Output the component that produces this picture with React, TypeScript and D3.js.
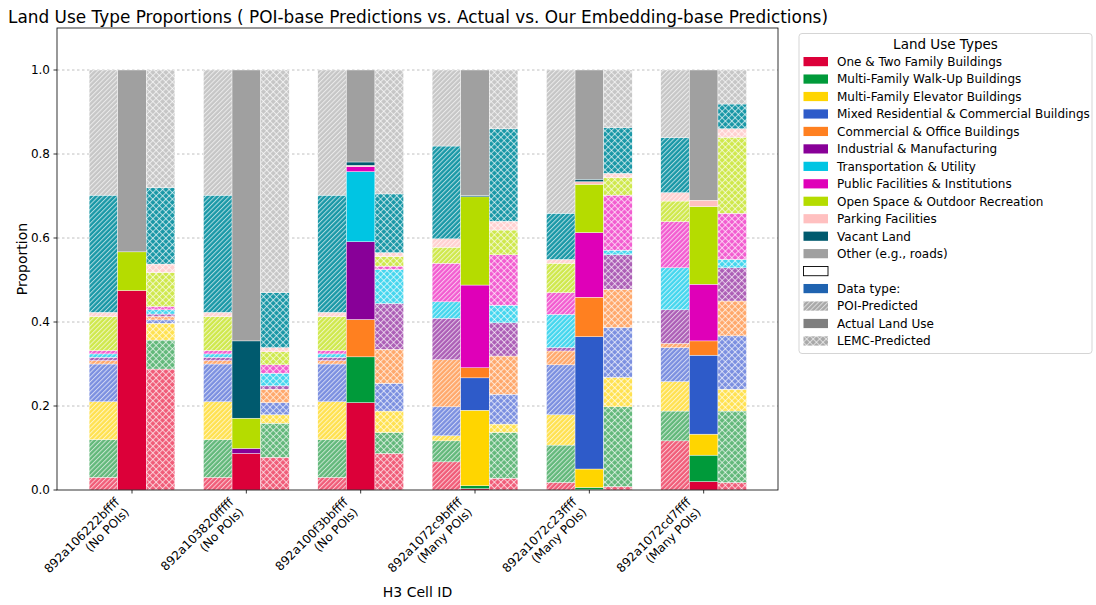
import React from "react";
import * as d3 from "d3";

const cellIds = ["892a106222bffff", "892a103820fffff", "892a100f3bbffff", "892a1072c9bffff", "892a1072c23ffff", "892a1072cd7ffff"];
const cellNotes = ["(No POIs)", "(No POIs)", "(No POIs)", "(Many POIs)", "(Many POIs)", "(Many POIs)"];
const landUseTypes = [
  "One & Two Family Buildings",
  "Multi-Family Walk-Up Buildings",
  "Multi-Family Elevator Buildings",
  "Mixed Residential & Commercial Buildings",
  "Commercial & Office Buildings",
  "Industrial & Manufacturing",
  "Transportation & Utility",
  "Public Facilities & Institutions",
  "Open Space & Outdoor Recreation",
  "Parking Facilities",
  "Vacant Land",
  "Other (e.g., roads)",
];
// values per cell, in landUseTypes order
const poiPredicted = [
  [0.03, 0.09, 0.09, 0.09, 0.008, 0.008, 0.008, 0.008, 0.081, 0.01, 0.279, 0.298],
  [0.03, 0.09, 0.09, 0.09, 0.008, 0.008, 0.008, 0.008, 0.081, 0.01, 0.279, 0.298],
  [0.03, 0.09, 0.09, 0.09, 0.008, 0.008, 0.008, 0.008, 0.081, 0.01, 0.279, 0.298],
  [0.067, 0.05, 0.012, 0.069, 0.112, 0.099, 0.039, 0.092, 0.038, 0.02, 0.221, 0.181],
  [0.018, 0.089, 0.072, 0.119, 0.033, 0.008, 0.079, 0.052, 0.07, 0.009, 0.11, 0.341],
  [0.117, 0.071, 0.07, 0.081, 0.01, 0.08, 0.1, 0.11, 0.049, 0.02, 0.131, 0.161],
];
const actualLandUse = [
  [0.475, 0, 0, 0, 0, 0, 0, 0, 0.092, 0, 0, 0.433],
  [0.087, 0, 0, 0, 0, 0.012, 0, 0, 0.072, 0, 0.184, 0.645],
  [0.208, 0.109, 0, 0, 0.089, 0.185, 0.167, 0.012, 0, 0.003, 0.008, 0.219],
  [0.003, 0.007, 0.18, 0.077, 0.024, 0, 0, 0.197, 0.21, 0, 0.003, 0.299],
  [0.001, 0.005, 0.044, 0.315, 0.094, 0, 0, 0.154, 0.115, 0.006, 0.006, 0.26],
  [0.02, 0.063, 0.05, 0.188, 0.034, 0, 0, 0.135, 0.185, 0.015, 0, 0.31],
];
const lemcPredicted = [
  [0.288, 0.069, 0.04, 0.008, 0.008, 0.006, 0.01, 0.008, 0.081, 0.02, 0.182, 0.28],
  [0.078, 0.081, 0.02, 0.029, 0.032, 0.008, 0.03, 0.02, 0.031, 0.01, 0.131, 0.53],
  [0.087, 0.05, 0.051, 0.066, 0.081, 0.109, 0.081, 0.008, 0.023, 0.009, 0.14, 0.295],
  [0.028, 0.109, 0.02, 0.071, 0.091, 0.079, 0.042, 0.12, 0.059, 0.021, 0.22, 0.14],
  [0.008, 0.19, 0.07, 0.119, 0.091, 0.082, 0.011, 0.131, 0.042, 0.01, 0.109, 0.137],
  [0.018, 0.17, 0.052, 0.127, 0.083, 0.079, 0.02, 0.11, 0.181, 0.02, 0.059, 0.081],
];
const yTicks = [0, 0.2, 0.4, 0.6, 0.8, 1.0];
const dataTypeLabels = ["POI-Predicted", "Actual Land Use", "LEMC-Predicted"];

const solidColors = ["#DC0039", "#009A3A", "#FFD500", "#2E5BC9", "#FF8020", "#880098", "#00C5E3", "#DF00B8", "#B5DC00", "#FFC0C0", "#005A6E", "#A0A0A0"];
const lightColors = ["#F05C78", "#62B87A", "#FFE150", "#7B8FE0", "#FFA86B", "#AC5EB6", "#44D6EE", "#F25CD0", "#CFE84C", "#FFD0D0", "#1897A6", "#C6C6C6"];

const W = 1096, H = 605;
const L = 57, R = 778, T = 28, B = 490;
const FONT = "DejaVu Sans, sans-serif";

export default function App() {
  const x = d3.scaleLinear().domain([-0.656, 5.65]).range([L, R]);
  const y = d3.scaleLinear().domain([0, 1.1]).range([B, T]);
  const bw = 0.25;
  const datasets = [poiPredicted, actualLandUse, lemcPredicted];
  const stacks = datasets.map((ds) => {
    const rows = ds.map((vals) => {
      const o: any = {};
      landUseTypes.forEach((k, i) => (o[k] = vals[i]));
      return o;
    });
    return d3.stack().keys(landUseTypes)(rows);
  });
  const fillFor = (t: number, i: number) =>
    t === 1 ? solidColors[i] : `url(#${t === 0 ? "poi" : "lemc"}-${i})`;

  const legendRows: { label: string; kind: string; color?: string }[] = [
    ...landUseTypes.map((l, i) => ({ label: l, kind: "solid", color: solidColors[i] })),
    { label: "", kind: "empty" },
    { label: "Data type:", kind: "solid", color: "#1F63B0" },
    { label: dataTypeLabels[0], kind: "poiLeg" },
    { label: dataTypeLabels[1], kind: "solid", color: "#7F7F7F" },
    { label: dataTypeLabels[2], kind: "lemcLeg" },
  ];

  return (
    <svg width={W} height={H} style={{ position: "absolute", left: 0, top: 0, background: "#fff" }} fontFamily={FONT}>
      <defs>
        {lightColors.map((c, i) => (
          <pattern key={"p" + i} id={`poi-${i}`} patternUnits="userSpaceOnUse" width={3.3} height={3.3} patternTransform="rotate(45)">
            <rect width={3.3} height={3.3} fill={c} />
            <line x1={0.5} y1={0} x2={0.5} y2={3.3} stroke="#fff" strokeOpacity={0.65} strokeWidth={1} />
          </pattern>
        ))}
        {lightColors.map((c, i) => (
          <pattern key={"l" + i} id={`lemc-${i}`} patternUnits="userSpaceOnUse" width={4.6} height={4.6} patternTransform="rotate(45)">
            <rect width={4.6} height={4.6} fill={c} />
            <line x1={0.5} y1={0} x2={0.5} y2={4.6} stroke="#fff" strokeOpacity={0.65} strokeWidth={1} />
            <line x1={0} y1={0.5} x2={4.6} y2={0.5} stroke="#fff" strokeOpacity={0.65} strokeWidth={1} />
          </pattern>
        ))}
        <pattern id="poi-leg" patternUnits="userSpaceOnUse" width={3.3} height={3.3} patternTransform="rotate(45)">
          <rect width={3.3} height={3.3} fill="#A8A8A8" />
          <line x1={0.5} y1={0} x2={0.5} y2={3.3} stroke="#fff" strokeOpacity={0.6} strokeWidth={1} />
        </pattern>
        <pattern id="lemc-leg" patternUnits="userSpaceOnUse" width={4.6} height={4.6} patternTransform="rotate(45)">
          <rect width={4.6} height={4.6} fill="#A8A8A8" />
          <line x1={0.5} y1={0} x2={0.5} y2={4.6} stroke="#fff" strokeOpacity={0.6} strokeWidth={1} />
          <line x1={0} y1={0.5} x2={4.6} y2={0.5} stroke="#fff" strokeOpacity={0.6} strokeWidth={1} />
        </pattern>
      </defs>

      {/* title */}
      <text x={8} y={23} fontSize={17} textLength={820} lengthAdjust="spacingAndGlyphs" fill="#000">
        Land Use Type Proportions ( POI-base Predictions vs. Actual vs. Our Embedding-base Predictions)
      </text>

      {/* grid */}
      {yTicks.slice(1).map((t) => (
        <line key={"g" + t} x1={L} x2={R} y1={y(t)} y2={y(t)} stroke="#b0b0b0" strokeWidth={0.8} strokeDasharray="2.5,2.5" />
      ))}

      {/* bars */}
      {stacks.map((st, t) =>
        st.map((layer, i) =>
          layer.map((seg, c) => {
            const h = y(seg[0]) - y(seg[1]);
            if (h <= 0) return null;
            const cx = x(c) + (t - 1) * (x(bw) - x(0));
            const w = x(bw) - x(0);
            return (
              <rect key={`${t}-${i}-${c}`} x={cx - w / 2} y={y(seg[1])} width={w} height={h} fill={fillFor(t, i)} stroke="#fff" strokeWidth={0.4} />
            );
          })
        )
      )}

      {/* axes frame */}
      <rect x={L} y={T} width={R - L} height={B - T} fill="none" stroke="#000" strokeWidth={0.8} />

      {/* y ticks */}
      {yTicks.map((t) => (
        <g key={"yt" + t}>
          <line x1={L - 3.5} x2={L} y1={y(t)} y2={y(t)} stroke="#000" strokeWidth={0.8} />
          <text x={L - 7} y={y(t) + 4.3} fontSize={12} textAnchor="end">{t.toFixed(1)}</text>
        </g>
      ))}
      <text transform={`translate(27,${(T + B) / 2}) rotate(-90)`} fontSize={14} textAnchor="middle">Proportion</text>

      {/* x ticks */}
      {cellIds.map((id, c) => (
        <g key={"xt" + c}>
          <line x1={x(c)} x2={x(c)} y1={B} y2={B + 3.5} stroke="#000" strokeWidth={0.8} />
          <text transform={`translate(${x(c) - 12},${B + 13}) rotate(-45)`} fontSize={12} textAnchor="end">
            <tspan x={0} dy={0}>{id}</tspan>
            <tspan x={0} dy={14}>{cellNotes[c]}</tspan>
          </text>
        </g>
      ))}
      <text x={(L + R) / 2} y={597} fontSize={14} textAnchor="middle">H3 Cell ID</text>

      {/* legend */}
      <rect x={799} y={33.5} width={293} height={320} rx={3} fill="#fff" stroke="#d0d0d0" strokeWidth={0.9} />
      <text x={945.5} y={49} fontSize={13.5} textAnchor="middle">Land Use Types</text>
      {legendRows.map((r, k) => {
        const cy = 61.7 + k * 17.46;
        const fill =
          r.kind === "solid" ? r.color : r.kind === "empty" ? "#fff" : r.kind === "poiLeg" ? "url(#poi-leg)" : "url(#lemc-leg)";
        return (
          <g key={"lg" + k}>
            <rect x={803.5} y={cy - 4.7} width={24.5} height={9.2} fill={fill} stroke={r.kind === "empty" ? "#000" : "none"} strokeWidth={0.9} />
            <text x={837} y={cy + 4.3} fontSize={12}>{r.label}</text>
          </g>
        );
      })}
    </svg>
  );
}
